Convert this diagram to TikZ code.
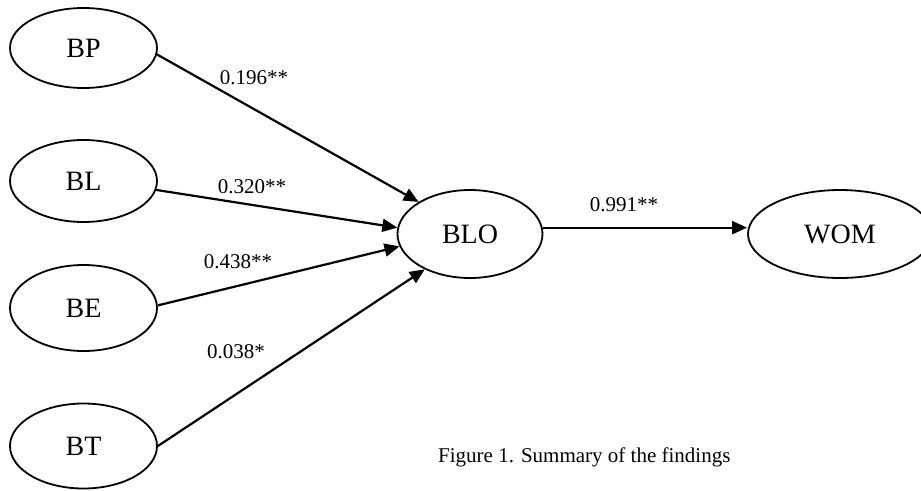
\documentclass[tikz,border=0pt]{standalone}
\usepackage{fontspec}
\setmainfont{Liberation Serif}
\usetikzlibrary{shapes.geometric,arrows.meta}
\begin{document}
\begin{tikzpicture}[x=1pt,y=-1pt,
  latent/.style={ellipse,draw,line width=1.8pt,inner sep=0pt,
    font=\fontsize{28}{32}\selectfont},
  path/.style={line width=2.2pt,-{Triangle[length=15pt,width=13pt]}},
  coef/.style={font=\fontsize{21}{24}\selectfont,inner sep=0pt}]
\useasboundingbox (0,0) rectangle (921,490);
\clip (0,0) rectangle (921,490);
\node[latent,minimum width=147pt,minimum height=80pt] (BP) at (83.5,48) {BP};
\node[latent,minimum width=147pt,minimum height=82pt] (BL) at (83.5,181) {BL};
\node[latent,minimum width=147pt,minimum height=86pt] (BE) at (83.5,308) {BE};
\node[latent,minimum width=147pt,minimum height=85pt] (BT) at (83.5,446) {BT};
\node[latent,minimum width=145pt,minimum height=88pt] (BLO) at (470,234) {BLO};
\node[latent,minimum width=184pt,minimum height=88pt] (WOM) at (840,234) {WOM};
\draw[path] (BP.-5.4) -- (BLO.148);
\draw[path] (BL.-7.8) -- (BLO.175);
\draw[path] (BE.2.3) -- (BLO.190);
\draw[path] (BT.0) -- (BLO.218);
\draw[path] (BLO.5.5) -- (BLO.5.5 -| WOM.west);
\node[coef] (c1) at (254,78) {0.196**};
\node[coef] (c2) at (252,187) {0.320**};
\node[coef] (c3) at (238,262) {0.438**};
\node[coef] (c4) at (236,352) {0.038*};
\node[coef] (c5) at (624,205) {0.991**};
\node[coef,anchor=west] (cap) at (438,457) {Figure 1. Summary of the findings};
\end{tikzpicture}
\end{document}
